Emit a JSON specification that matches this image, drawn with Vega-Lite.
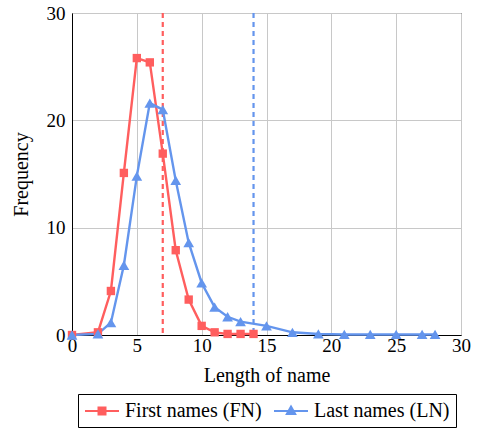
{
  "$schema": "https://vega.github.io/schema/vega-lite/v6.json",
  "autosize": "none",
  "width": 389,
  "height": 322,
  "padding": {"left": 72, "top": 13, "right": 17, "bottom": 94},
  "background": "white",
  "config": {
    "font": "Liberation Serif",
    "view": {"stroke": "black", "strokeWidth": 1},
    "axis": {
      "grid": true,
      "gridColor": "#c8c8c8",
      "gridWidth": 1,
      "domainColor": "black",
      "domainWidth": 1,
      "ticks": false,
      "labelFont": "Liberation Serif",
      "labelFontSize": 19,
      "labelColor": "black",
      "labelFlush": false,
      "titleFont": "Liberation Serif",
      "titleFontSize": 20,
      "titleFontWeight": "normal",
      "titleColor": "black"
    },
    "legend": {
      "labelFontSize": 20,
      "labelColor": "black"
    }
  },
  "resolve": {
    "scale": {"color": "independent", "shape": "independent", "fill": "independent", "stroke": "independent", "size": "independent"},
    "legend": {"color": "independent", "shape": "independent", "fill": "independent", "stroke": "independent"}
  },
  "datasets": {
    "series": [
      {"series": "First names (FN)", "x": 0, "y": 0},
      {"series": "First names (FN)", "x": 2, "y": 0.25},
      {"series": "First names (FN)", "x": 3, "y": 4.1},
      {"series": "First names (FN)", "x": 4, "y": 15.1},
      {"series": "First names (FN)", "x": 5, "y": 25.8},
      {"series": "First names (FN)", "x": 6, "y": 25.4},
      {"series": "First names (FN)", "x": 7, "y": 16.9},
      {"series": "First names (FN)", "x": 8, "y": 7.9},
      {"series": "First names (FN)", "x": 9, "y": 3.3},
      {"series": "First names (FN)", "x": 10, "y": 0.85},
      {"series": "First names (FN)", "x": 11, "y": 0.25},
      {"series": "First names (FN)", "x": 12, "y": 0.1},
      {"series": "First names (FN)", "x": 13, "y": 0.1},
      {"series": "First names (FN)", "x": 14, "y": 0.1},
      {"series": "Last names (LN)", "x": 0, "y": 0},
      {"series": "Last names (LN)", "x": 2, "y": 0.1},
      {"series": "Last names (LN)", "x": 3, "y": 1.15},
      {"series": "Last names (LN)", "x": 4, "y": 6.5},
      {"series": "Last names (LN)", "x": 5, "y": 14.8},
      {"series": "Last names (LN)", "x": 6, "y": 21.6},
      {"series": "Last names (LN)", "x": 7, "y": 21.0},
      {"series": "Last names (LN)", "x": 8, "y": 14.4},
      {"series": "Last names (LN)", "x": 9, "y": 8.6},
      {"series": "Last names (LN)", "x": 10, "y": 4.85},
      {"series": "Last names (LN)", "x": 11, "y": 2.6},
      {"series": "Last names (LN)", "x": 12, "y": 1.7},
      {"series": "Last names (LN)", "x": 13, "y": 1.25},
      {"series": "Last names (LN)", "x": 15, "y": 0.85},
      {"series": "Last names (LN)", "x": 17, "y": 0.25},
      {"series": "Last names (LN)", "x": 19, "y": 0.1},
      {"series": "Last names (LN)", "x": 21, "y": 0.05},
      {"series": "Last names (LN)", "x": 23, "y": 0.05},
      {"series": "Last names (LN)", "x": 25, "y": 0.05},
      {"series": "Last names (LN)", "x": 27, "y": 0.05},
      {"series": "Last names (LN)", "x": 28, "y": 0.05}
    ],
    "means": [
      {"series": "First names (FN)", "x": 7},
      {"series": "Last names (LN)", "x": 14}
    ]
  },
  "layer": [
    {
      "data": {"name": "means"},
      "mark": {"type": "rule", "strokeWidth": 2.2, "strokeDash": [5, 4]},
      "encoding": {
        "x": {
          "field": "x", "type": "quantitative",
          "scale": {"domain": [0, 30], "nice": false},
          "axis": {
            "values": [0, 5, 10, 15, 20, 25, 30], "title": "Length of name", "labelFont": "Liberation Serif", "labelPadding": 1, "titlePadding": 10,
            "encode": {"labels": {"update": {"font": {"value": "Liberation Serif"}}}}
          }
        },
        "color": {
          "field": "series", "type": "nominal",
          "scale": {"domain": ["First names (FN)", "Last names (LN)"], "range": ["#ff5e5e", "#6495ed"]},
          "legend": null
        }
      }
    },
    {
      "data": {"name": "series"},
      "mark": {"type": "line", "strokeWidth": 2.4},
      "encoding": {
        "x": {"field": "x", "type": "quantitative"},
        "y": {
          "field": "y", "type": "quantitative",
          "scale": {"domain": [0, 30], "nice": false},
          "axis": {
            "values": [0, 10, 20, 30], "title": "Frequency", "labelFont": "Liberation Serif", "labelPadding": 7, "titlePadding": 15,
            "encode": {"labels": {"update": {"font": {"value": "Liberation Serif"}}}}
          }
        },
        "color": {
          "field": "series", "type": "nominal",
          "scale": {"domain": ["First names (FN)", "Last names (LN)"], "range": ["#ff5e5e", "#6495ed"]},
          "legend": null
        }
      }
    },
    {
      "data": {"name": "series"},
      "mark": {"type": "point", "filled": true, "opacity": 1},
      "encoding": {
        "x": {"field": "x", "type": "quantitative"},
        "y": {"field": "y", "type": "quantitative"},
        "shape": {
          "field": "series", "type": "nominal",
          "scale": {"domain": ["First names (FN)", "Last names (LN)"], "range": ["square", "triangle-up"]},
          "legend": null
        },
        "size": {
          "field": "series", "type": "nominal",
          "scale": {"domain": ["First names (FN)", "Last names (LN)"], "range": [70, 115]},
          "legend": null
        },
        "color": {
          "field": "series", "type": "nominal",
          "scale": {"domain": ["First names (FN)", "Last names (LN)"], "range": ["#ff5e5e", "#6495ed"]},
          "legend": null
        }
      }
    },
    {
      "data": {"name": "series"},
      "transform": [{"filter": "datum.x < 0"}],
      "mark": {"type": "point", "strokeWidth": 2, "opacity": 1},
      "encoding": {
        "x": {"field": "x", "type": "quantitative"},
        "y": {"field": "y", "type": "quantitative"},
        "shape": {
          "field": "series", "type": "nominal",
          "scale": {"domain": ["First names (FN)", "Last names (LN)"], "range": ["M-1.7,0H1.7M-0.35,-0.35H0.35V0.35H-0.35Z", "M-1.7,0H1.7M0,-0.45L0.42,0.3H-0.42Z"]},
          "legend": {
            "title": null,
            "orient": "none",
            "legendX": 6,
            "legendY": 381,
            "direction": "horizontal",
            "strokeColor": "black",
            "padding": 6,
            "labelFont": "Liberation Serif",
            "labelFontSize": 20,
            "labelColor": "black",
            "labelLimit": 400,
            "labelOffset": 12,
            "symbolOffset": 7,
            "columnPadding": 8,
            "symbolSize": 400,
            "symbolStrokeWidth": 2
          }
        },
        "fill": {
          "field": "series", "type": "nominal",
          "scale": {"domain": ["First names (FN)", "Last names (LN)"], "range": ["#ff5e5e", "#6495ed"]}
        },
        "stroke": {
          "field": "series", "type": "nominal",
          "scale": {"domain": ["First names (FN)", "Last names (LN)"], "range": ["#ff5e5e", "#6495ed"]}
        }
      }
    }
  ]
}
